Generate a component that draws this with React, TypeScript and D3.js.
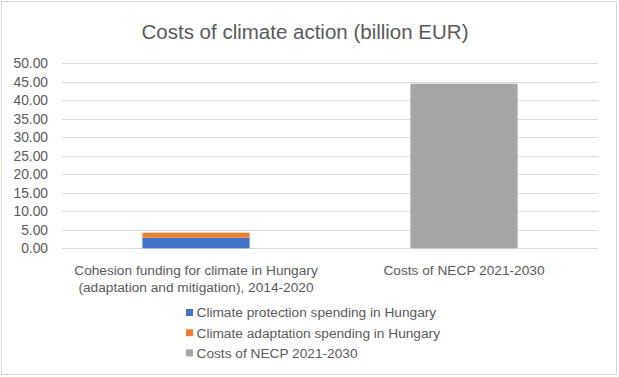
import React from "react";
import * as d3 from "d3";

const categories = [
  ["Cohesion funding for climate in Hungary", "(adaptation and mitigation), 2014-2020"],
  ["Costs of NECP 2021-2030"],
];
const seriesNames = [
  "Climate protection spending in Hungary",
  "Climate adaptation spending in Hungary",
  "Costs of NECP 2021-2030",
];
const protection = [2.87, 0];
const adaptation = [1.35, 0];
const necp = [0, 44.5];
const yTicks = [0, 5, 10, 15, 20, 25, 30, 35, 40, 45, 50];
const colors = ["#4472C4", "#ED7D31", "#A5A5A5"];

const W = 619;
const H = 377;
const font = "'Liberation Sans', Arial, sans-serif";
const textColor = "#595959";

export default function App() {
  const x = d3.scaleBand<number>().domain([0, 1]).range([62, 598]).padding(0);
  const y = d3.scaleLinear().domain([0, 50]).range([248.3, 63.3]);
  const barW = x.bandwidth() / 2.5;

  const rows = [0, 1].map((i) => {
    const stack: { y0: number; y1: number; c: string }[] = [];
    let acc = 0;
    [protection[i], adaptation[i], necp[i]].forEach((v, k) => {
      if (v > 0) {
        stack.push({ y0: acc, y1: acc + v, c: colors[k] });
        acc += v;
      }
    });
    return stack;
  });

  return (
    <svg
      width={W}
      height={H}
      style={{ position: "absolute", left: 0, top: 0, background: "#fff" }}
      fontFamily={font}
    >
      <rect x={1.5} y={1.5} width={W - 4} height={H - 4} fill="#fff" stroke="#D9D9D9" strokeWidth={1} />
      <text x={305} y={39} textAnchor="middle" fontSize={20.5} fill={textColor}>
        Costs of climate action (billion EUR)
      </text>
      {yTicks.map((t) => (
        <g key={t}>
          <line x1={62} x2={598} y1={Math.round(y(t)) + 0.5} y2={Math.round(y(t)) + 0.5} stroke="#D9D9D9" strokeWidth={1} />
          <text x={48} y={y(t) + 4.8} textAnchor="end" fontSize={13.8} fill={textColor}>
            {t.toFixed(2)}
          </text>
        </g>
      ))}
      {rows.map((stack, i) =>
        stack.map((s, k) => (
          <rect
            key={i + "-" + k}
            x={(x(i) as number) + x.bandwidth() / 2 - barW / 2}
            width={barW}
            y={y(s.y1)}
            height={y(s.y0) - y(s.y1)}
            fill={s.c}
          />
        ))
      )}
      {categories.map((lines, i) => (
        <text key={i} textAnchor="middle" fontSize={13.7} fill={textColor}>
          {lines.map((l, j) => (
            <tspan key={j} x={(x(i) as number) + x.bandwidth() / 2} y={274.8 + j * 16.7}>
              {l}
            </tspan>
          ))}
        </text>
      ))}
      {seriesNames.map((n, k) => (
        <g key={n} transform={`translate(186, ${312.5 + k * 20.2})`}>
          <rect x={0} y={-3.5} width={7} height={7} fill={colors[k]} />
          <text x={10.5} y={4.8} fontSize={13.7} fill={textColor}>
            {n}
          </text>
        </g>
      ))}
    </svg>
  );
}
